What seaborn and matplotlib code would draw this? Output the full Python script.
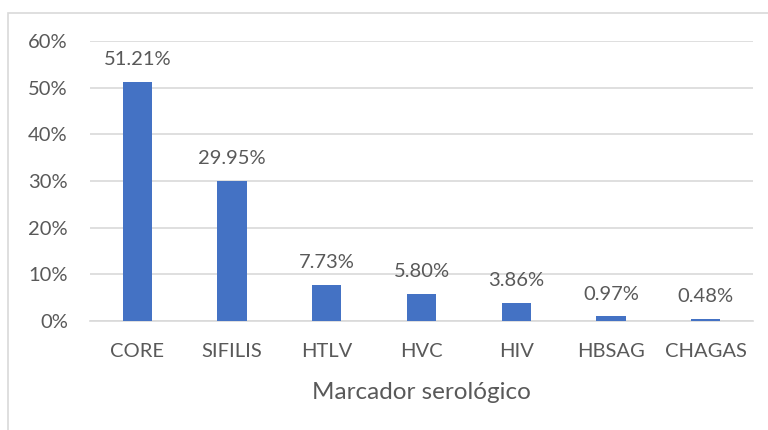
import matplotlib
matplotlib.use("Agg")
import matplotlib.pyplot as plt
import seaborn as sns
import pandas as pd
from matplotlib.patches import Rectangle

categories = ["CORE", "SIFILIS", "HTLV", "HVC", "HIV", "HBSAG", "CHAGAS"]
values = [51.21, 29.95, 7.73, 5.80, 3.86, 0.97, 0.48]
yticks = [0, 10, 20, 30, 40, 50, 60]
ytick_labels = ["0%", "10%", "20%", "30%", "40%", "50%", "60%"]
xlabel = "Marcador serológico"

sns.set_theme(style="white")
plt.rcParams["font.family"] = ["Lato", "DejaVu Sans"]

df = pd.DataFrame({"cat": categories, "val": values})
text_col = "#595959"

fig = plt.figure(figsize=(7.68, 4.30), dpi=100)
ax = fig.add_axes([90/768, 1-321/430, (753-90)/768, (321-41)/430])
sns.barplot(data=df, x="cat", y="val", color="#4472C4", width=0.31, saturation=1,
            linewidth=0, ax=ax, zorder=3)

ax.set_ylim(0, 60)
ax.set_yticks(yticks)
ax.set_yticklabels(ytick_labels)
ax.yaxis.grid(True, color="#D9D9D9", linewidth=1.2, zorder=0)
ax.set_axisbelow(True)
for s in ["top", "right", "left"]:
    ax.spines[s].set_visible(False)
ax.spines["bottom"].set_color("#D9D9D9")
ax.spines["bottom"].set_linewidth(1.2)
ax.tick_params(axis="both", length=0, labelsize=14.5, colors=text_col)
ax.tick_params(axis="y", pad=16)
ax.tick_params(axis="x", pad=16)
ax.set_xlabel(xlabel, fontsize=17.5, color=text_col, labelpad=16)
ax.set_ylabel("")

for i, v in enumerate(values):
    ax.annotate(f"{v:.2f}%", (i, v), xytext=(0, 10), textcoords="offset points",
                ha="center", va="bottom", fontsize=14.5, color=text_col)

fig.patches.append(Rectangle((8/768, -0.1), 1.2, 1 - 13/430 + 0.1, transform=fig.transFigure,
                             fill=False, edgecolor="#D9D9D9", linewidth=1.2, figure=fig))

fig.savefig("out.png", dpi=100)
